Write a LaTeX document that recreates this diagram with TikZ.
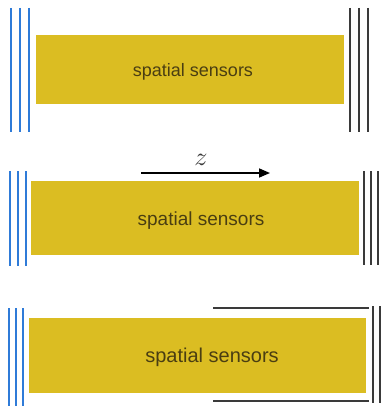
\documentclass[tikz,border=0pt]{standalone}
\usepackage{fontspec}
\setmainfont{Liberation Sans}
\usetikzlibrary{arrows.meta}
\definecolor{sensorfill}{HTML}{DBBD22}
\definecolor{sensortext}{HTML}{4A3E12}
\definecolor{mirrorblue}{HTML}{2F7BD8}
\definecolor{mirrordark}{HTML}{3A3A3A}
\tikzset{
  sensor/.style={fill=sensorfill, draw=none, anchor=north west, inner sep=0pt},
  sensorlabel/.style={text=sensortext, inner sep=0pt},
  bluemirror/.style={draw=mirrorblue, line width=2.4pt},
  darkmirror/.style={draw=mirrordark, line width=2.4pt},
}
\begin{document}
\begin{tikzpicture}[x=1pt, y=-1pt]
  \useasboundingbox (0,0) rectangle (384,406);

  % --- top panel ---
  \node[sensor, minimum width=308pt, minimum height=69pt] (s1) at (36,35) {};
  \node[sensorlabel, font=\fontsize{18}{20}\selectfont] (l1) at (193,72) {spatial sensors};
  \foreach \x in {11,20,29} \draw[bluemirror] (\x,8) -- (\x,132);
  \foreach \x in {350,359,368} \draw[darkmirror] (\x,8) -- (\x,132);

  % --- middle panel ---
  \node[sensor, minimum width=328pt, minimum height=74pt] (s2) at (31,181) {};
  \node[sensorlabel, font=\fontsize{19}{21}\selectfont] (l2) at (201,221) {spatial sensors};
  \foreach \x in {10,18,26} \draw[bluemirror] (\x,171) -- (\x,266);
  \foreach \x in {364,371,378} \draw[darkmirror] (\x,171) -- (\x,265);
  \coordinate (zs) at (141,173);
  \coordinate (ze) at (270,173);
  \draw[line width=1.6pt, -{Triangle[length=11pt, width=9pt]}] (zs) -- (ze);
  \node[scale=2.6, text=mirrordark, inner sep=0pt] (zl) at (201,160) {$z$};

  % --- bottom panel ---
  \node[sensor, minimum width=337pt, minimum height=75pt] (s3) at (29,318) {};
  \node[sensorlabel, font=\fontsize{20}{22}\selectfont] (l3) at (212,357) {spatial sensors};
  \foreach \x in {9,16,23} \draw[bluemirror] (\x,308) -- (\x,406);
  \draw[darkmirror] (213,308) -- (369,308);
  \draw[darkmirror] (213,401) -- (369,401);
  \foreach \x in {373,380} \draw[darkmirror] (\x,306) -- (\x,403);
\end{tikzpicture}
\end{document}
